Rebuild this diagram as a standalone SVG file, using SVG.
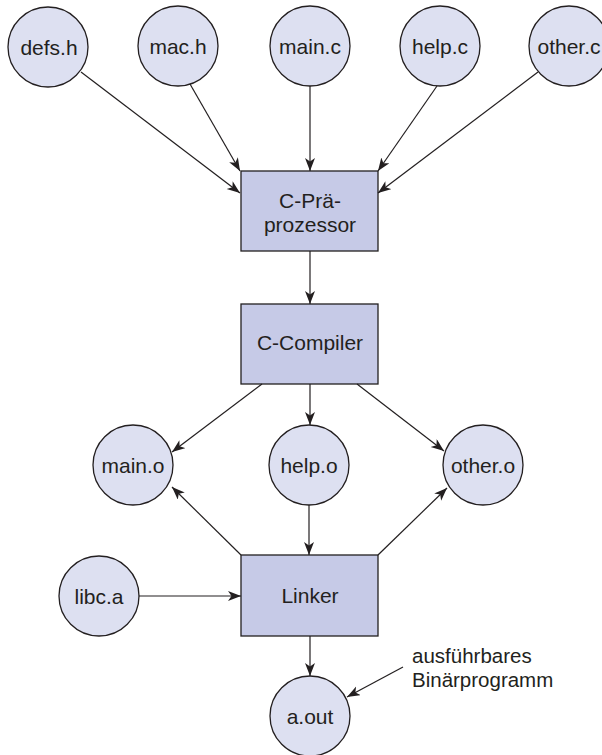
<svg xmlns="http://www.w3.org/2000/svg" width="602" height="755" viewBox="0 0 602 755">
  <style>
    .file { fill: #dde0f1; stroke: #231f20; stroke-width: 1.3; }
    .tool { fill: #c6cae7; stroke: #231f20; stroke-width: 1.3; }
    .lbl { font-family: "Liberation Sans", Arial, sans-serif; font-size: 21px; fill: #231f20; text-anchor: middle; }
    .note { font-family: "Liberation Sans", Arial, sans-serif; font-size: 20.5px; fill: #231f20; }
    .edge { stroke: #231f20; stroke-width: 1.2; fill: none; marker-end: url(#arrow); }
  </style>
  <defs>
    <marker id="arrow" markerUnits="userSpaceOnUse" markerWidth="14" markerHeight="11" refX="13" refY="5" orient="auto">
      <path d="M0,0 L13,5 L0,10 L3.5,5 z" fill="#231f20"/>
    </marker>
  </defs>

  <!-- source files -->
  <g id="defs_h"><circle class="file" cx="48" cy="47" r="40"/><text class="lbl" x="49" y="55">defs.h</text></g>
  <g id="mac_h"><circle class="file" cx="178" cy="46" r="40"/><text class="lbl" x="178" y="54">mac.h</text></g>
  <g id="main_c"><circle class="file" cx="310" cy="46" r="40"/><text class="lbl" x="310" y="54">main.c</text></g>
  <g id="help_c"><circle class="file" cx="440" cy="46" r="40"/><text class="lbl" x="440" y="54">help.c</text></g>
  <g id="other_c"><circle class="file" cx="569" cy="46" r="40"/><text class="lbl" x="569" y="54">other.c</text></g>

  <!-- preprocessor -->
  <g id="preprocessor">
    <rect class="tool" x="241" y="171" width="137" height="80"/>
    <text class="lbl" x="310" y="208">C-Prä-</text>
    <text class="lbl" x="310" y="232">prozessor</text>
  </g>

  <!-- compiler -->
  <g id="compiler">
    <rect class="tool" x="241" y="304" width="137" height="80"/>
    <text class="lbl" x="310" y="350">C-Compiler</text>
  </g>

  <!-- object files -->
  <g id="main_o"><circle class="file" cx="133" cy="465" r="40"/><text class="lbl" x="133" y="473">main.o</text></g>
  <g id="help_o"><circle class="file" cx="309" cy="465" r="40"/><text class="lbl" x="309" y="473">help.o</text></g>
  <g id="other_o"><circle class="file" cx="483" cy="465" r="40"/><text class="lbl" x="483" y="473">other.o</text></g>

  <!-- library -->
  <g id="libc_a"><circle class="file" cx="99" cy="596" r="40"/><text class="lbl" x="99" y="604">libc.a</text></g>

  <!-- linker -->
  <g id="linker">
    <rect class="tool" x="241" y="555" width="137" height="81"/>
    <text class="lbl" x="310" y="603">Linker</text>
  </g>

  <!-- executable -->
  <g id="a_out"><circle class="file" cx="310" cy="716" r="40"/><text class="lbl" x="310" y="724">a.out</text></g>

  <!-- annotation -->
  <g id="note">
    <text class="note" x="412" y="663">ausführbares</text>
    <text class="note" x="412" y="687">Binärprogramm</text>
  </g>

  <g id="connectors">
    <line class="edge" x1="81" y1="72" x2="240" y2="193"/>
    <line class="edge" x1="190" y1="84" x2="240" y2="171"/>
    <line class="edge" x1="310" y1="86" x2="310" y2="171"/>
    <line class="edge" x1="437" y1="86" x2="378" y2="171"/>
    <line class="edge" x1="538" y1="72" x2="378" y2="193"/>
    <line class="edge" x1="310" y1="251" x2="310" y2="304"/>
    <line class="edge" x1="262" y1="384" x2="172" y2="452"/>
    <line class="edge" x1="310" y1="384" x2="310" y2="425"/>
    <line class="edge" x1="357" y1="384" x2="444" y2="451"/>
    <line class="edge" x1="241" y1="555" x2="172" y2="487"/>
    <line class="edge" x1="309" y1="505" x2="309" y2="555"/>
    <line class="edge" x1="378" y1="555" x2="447" y2="488"/>
    <line class="edge" x1="139" y1="596" x2="241" y2="596"/>
    <line class="edge" x1="310" y1="636" x2="310" y2="676"/>
    <line class="edge" x1="403" y1="667" x2="347" y2="697"/>
  </g>
</svg>
